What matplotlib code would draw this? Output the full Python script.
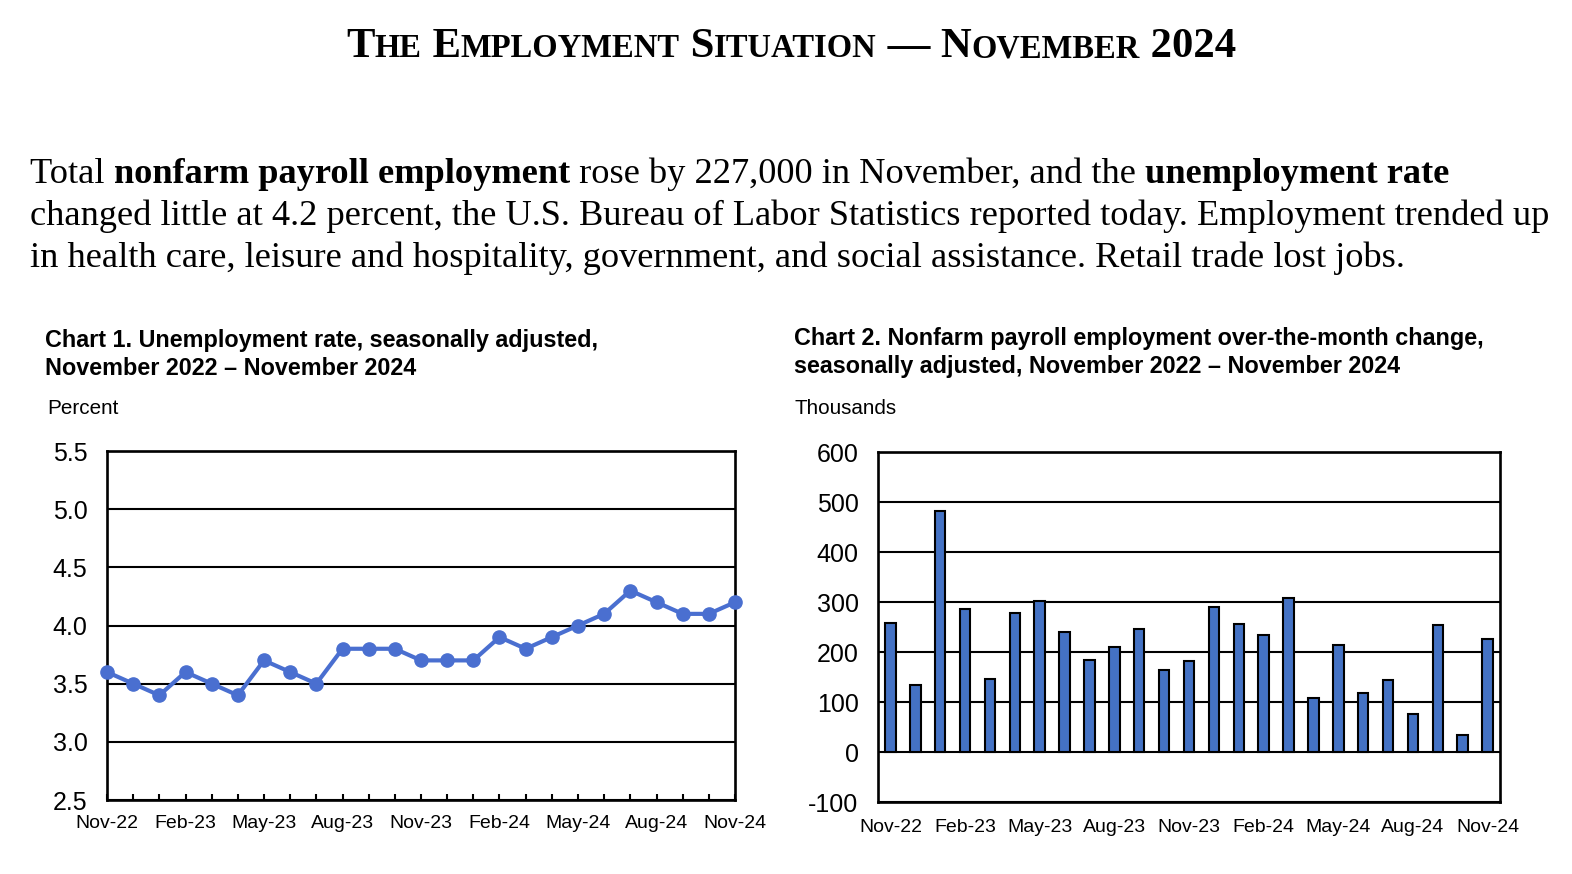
import matplotlib
matplotlib.use('Agg')
import matplotlib.pyplot as plt
import numpy as np

# data
months = ['Nov-22', 'Dec-22', 'Jan-23', 'Feb-23', 'Mar-23', 'Apr-23', 'May-23', 'Jun-23', 'Jul-23',
          'Aug-23', 'Sep-23', 'Oct-23', 'Nov-23', 'Dec-23', 'Jan-24', 'Feb-24', 'Mar-24', 'Apr-24',
          'May-24', 'Jun-24', 'Jul-24', 'Aug-24', 'Sep-24', 'Oct-24', 'Nov-24']
unemp_rate = [3.6, 3.5, 3.4, 3.6, 3.5, 3.4, 3.7, 3.6, 3.5, 3.8, 3.8, 3.8, 3.7,
              3.7, 3.7, 3.9, 3.8, 3.9, 4.0, 4.1, 4.3, 4.2, 4.1, 4.1, 4.2]
payroll_chg = [258, 135, 482, 287, 147, 279, 303, 241, 185, 210, 246, 165, 182,
               290, 256, 235, 309, 108, 215, 118, 144, 77, 255, 35, 227]
rate_ticks = [2.5, 3.0, 3.5, 4.0, 4.5, 5.0, 5.5]
payroll_ticks = [-100, 0, 100, 200, 300, 400, 500, 600]

plt.rcParams['axes.unicode_minus'] = False

W, H = 1572, 874
fig = plt.figure(figsize=(W / 100, H / 100), dpi=100)
r = fig.canvas.get_renderer()

SERIF = 'Liberation Serif'
SANS = 'Liberation Sans'
BLUE_LINE = '#4a6fd0'
BLUE_BAR = '#4472c4'


def fy(px):
    return 1 - px / H


def run_width(s, **kw):
    # width incl. spaces: measure between two bars
    a = fig.text(0, 0, '|' + s + '|', **kw)
    b = fig.text(0, 0, '||', **kw)
    w = a.get_window_extent(r).width - b.get_window_extent(r).width
    a.remove()
    b.remove()
    return w


def draw_runs(runs, x_px, y_px, center=False):
    widths = [run_width(s, **kw) for s, kw in runs]
    x = x_px - (sum(widths) / 2 if center else 0)
    for (s, kw), w in zip(runs, widths):
        fig.text(x / W, fy(y_px), s, va='baseline', ha='left', **kw)
        x += w


# title in small caps
big = dict(family=SERIF, weight='bold', size=30.7)
small = dict(family=SERIF, weight='bold', size=23.5)
title_runs = [('T', big), ('HE', small), (' E', big), ('MPLOYMENT', small), (' S', big),
              ('ITUATION', small), (' \u2014 N', big), ('OVEMBER', small), (' 2024', big)]
draw_runs(title_runs, 791, 57, center=True)

reg = dict(family=SERIF, size=26.2)
bold = dict(family=SERIF, size=26.2, weight='bold')
draw_runs([('Total ', reg), ('nonfarm payroll employment', bold),
           (' rose by 227,000 in November, and the ', reg), ('unemployment rate', bold)], 30, 183)
draw_runs([('changed little at 4.2 percent, the U.S. Bureau of Labor Statistics reported today. '
            'Employment trended up', reg)], 30, 225)
draw_runs([('in health care, leisure and hospitality, government, and social assistance. '
            'Retail trade lost jobs.', reg)], 30, 267)

# chart headings
head = dict(family=SANS, weight='bold', size=16.8)
fig.text(45 / W, fy(347), 'Chart 1. Unemployment rate, seasonally adjusted,', va='baseline', **head)
fig.text(45 / W, fy(375), 'November 2022 \u2013 November 2024', va='baseline', **head)
fig.text(794 / W, fy(345), 'Chart 2. Nonfarm payroll employment over-the-month change,', va='baseline', **head)
fig.text(794 / W, fy(373), 'seasonally adjusted, November 2022 \u2013 November 2024', va='baseline', **head)
fig.text(47 / W, fy(408), 'Percent', va='center', family=SANS, size=14.9)
fig.text(794 / W, fy(408), 'Thousands', va='center', family=SANS, size=14.9)

x = np.arange(len(months))
label_idx = list(range(0, len(months), 3))


def style_axes(ax):
    for sp in ax.spines.values():
        sp.set_linewidth(1.9)
        sp.set_color('black')
    ax.grid(axis='y', color='black', linewidth=1.5)
    ax.set_axisbelow(True)
    ax.tick_params(axis='y', length=0, pad=14, labelsize=18)
    ax.tick_params(axis='x', labelsize=14)
    for lab in ax.get_xticklabels() + ax.get_yticklabels():
        lab.set_family(SANS)


# Chart 1: unemployment rate
ax1 = fig.add_axes([107 / W, 1 - 800 / H, 628 / W, 349 / H])
ax1.plot(x, unemp_rate, color=BLUE_LINE, linewidth=3, marker='o', markersize=9.5, zorder=3, clip_on=False)
ax1.set_xlim(0, len(months) - 1)
ax1.set_ylim(rate_ticks[0], rate_ticks[-1])
ax1.set_yticks(rate_ticks)
ax1.set_yticklabels([f'{v:.1f}' for v in rate_ticks])
ax1.set_xticks(x, minor=True)
ax1.set_xticks(label_idx)
ax1.set_xticklabels([months[i] for i in label_idx])
ax1.tick_params(axis='x', which='both', direction='in', length=4, width=1.5, pad=11)
style_axes(ax1)

# Chart 2: payroll change
ax2 = fig.add_axes([878 / W, 1 - 802 / H, 622 / W, 350 / H])
ax2.bar(x, payroll_chg, width=0.42, color=BLUE_BAR, edgecolor='black', linewidth=1.5, zorder=2)
ax2.set_xlim(-0.5, len(months) - 0.5)
ax2.set_ylim(payroll_ticks[0], payroll_ticks[-1])
ax2.set_yticks(payroll_ticks)
ax2.set_xticks(label_idx)
ax2.set_xticklabels([months[i] for i in label_idx])
ax2.tick_params(axis='x', length=0, pad=12)
style_axes(ax2)

fig.savefig('out.png', dpi=100)
